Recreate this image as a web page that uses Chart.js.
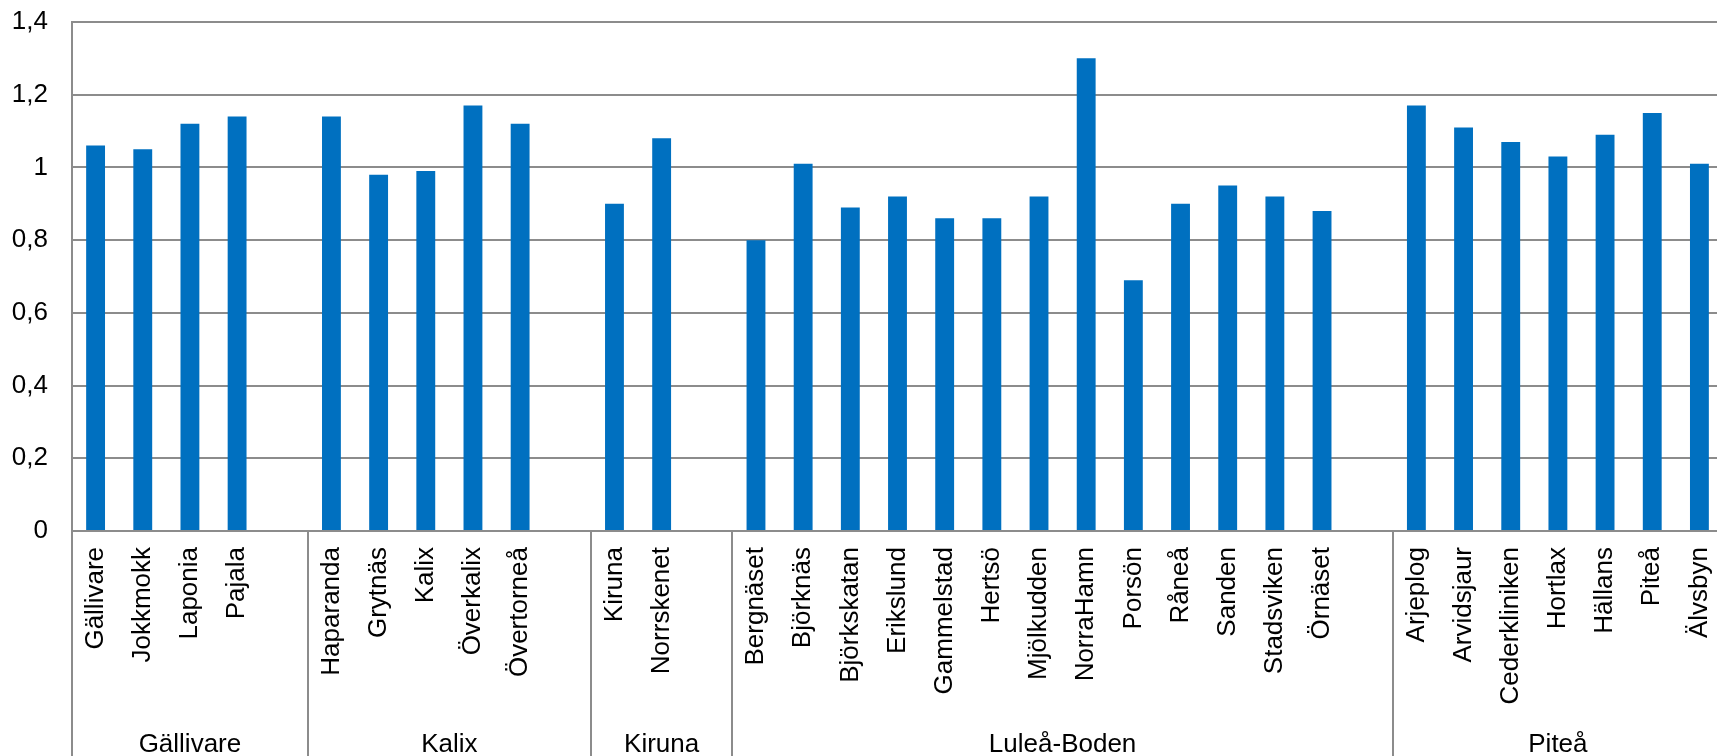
<!DOCTYPE html>
<html>
<head>
<meta charset="utf-8">
<script src="https://cdn.jsdelivr.net/npm/chart.js@4/dist/chart.umd.min.js"></script>
<style>
  html, body { margin: 0; padding: 0; background: #fff; overflow: hidden; }
  #wrap { width: 1730px; height: 756px; }
</style>
</head>
<body>
<div id="wrap"><canvas id="c" width="1730" height="756"></canvas></div>
<script>
// ---- data ----
const categories = [
  'Gällivare', 'Jokkmokk', 'Laponia', 'Pajala', '',
  'Haparanda', 'Grytnäs', 'Kalix', 'Överkalix', 'Övertorneå', '',
  'Kiruna', 'Norrskenet', '',
  'Bergnäset', 'Björknäs', 'Björkskatan', 'Erikslund', 'Gammelstad', 'Hertsö', 'Mjölkudden',
  'NorraHamn', 'Porsön', 'Råneå', 'Sanden', 'Stadsviken', 'Örnäset', '',
  'Arjeplog', 'Arvidsjaur', 'Cederkliniken', 'Hortlax', 'Hällans', 'Piteå', 'Älvsbyn'
];
const values = [
  1.06, 1.05, 1.12, 1.14, null,
  1.14, 0.98, 0.99, 1.17, 1.12, null,
  0.90, 1.08, null,
  0.80, 1.01, 0.89, 0.92, 0.86, 0.86, 0.92,
  1.30, 0.69, 0.90, 0.95, 0.92, 0.88, null,
  1.17, 1.11, 1.07, 1.03, 1.09, 1.15, 1.01
];
const groups = ['Gällivare', 'Kalix', 'Kiruna', 'Luleå-Boden', 'Piteå'];
const groupSizes = [5, 6, 3, 14, 7];
const yTicks = [0, 0.2, 0.4, 0.6, 0.8, 1, 1.2, 1.4];

// ---- style ----
const FONT = "'Liberation Sans', Arial, sans-serif";
const LINE = '#8c8c8c';
const BAR = '#0070C0';

function clearPadding(scale) {
  scale.paddingTop = 0;
  scale.paddingBottom = 0;
  scale.paddingLeft = 0;
  scale.paddingRight = 0;
}

const groupPlugin = {
  id: 'groupAxis',
  afterDraw(chart) {
    const x = chart.scales.x;
    const ctx = chart.ctx;
    const top = x.top;
    const bottom = chart.height;
    ctx.save();
    ctx.strokeStyle = LINE;
    ctx.lineWidth = 2;
    ctx.fillStyle = '#000';
    ctx.font = '26px ' + FONT;
    ctx.textAlign = 'center';
    ctx.textBaseline = 'alphabetic';
    let start = 0;
    groupSizes.forEach((size, g) => {
      const end = start + size;
      const left = start === 0 ? x.left : (x.getPixelForTick(start - 1) + x.getPixelForTick(start)) / 2;
      const right = end >= categories.length ? x.right : (x.getPixelForTick(end - 1) + x.getPixelForTick(end)) / 2;
      ctx.beginPath();
      ctx.moveTo(Math.round(left), top);
      ctx.lineTo(Math.round(left), bottom);
      ctx.stroke();
      ctx.fillText(groups[g], (left + right) / 2, 751.5);
      start = end;
    });
    ctx.restore();
  }
};

new Chart(document.getElementById('c'), {
  type: 'bar',
  data: {
    labels: categories,
    datasets: [{
      data: values,
      backgroundColor: BAR,
      borderWidth: 0,
      categoryPercentage: 1,
      barPercentage: 0.4
    }]
  },
  options: {
    responsive: false,
    animation: false,
    events: [],
    layout: { padding: { top: 22, right: 7, left: 0, bottom: 0 } },
    plugins: { legend: { display: false }, tooltip: { enabled: false } },
    scales: {
      x: {
        grid: { display: true, drawOnChartArea: false, drawTicks: false },
        border: { display: true, color: LINE, width: 2 },
        ticks: {
          autoSkip: false,
          minRotation: 90,
          maxRotation: 90,
          padding: 16,
          color: '#000',
          font: { family: FONT, size: 26 }
        },
        afterFit(scale) { scale.height = 225; clearPadding(scale); }
      },
      y: {
        min: 0,
        max: 1.4,
        afterBuildTicks(scale) { scale.ticks = yTicks.map(v => ({ value: v })); },
        grid: { color: LINE, lineWidth: 2, drawTicks: false },
        border: { display: true, color: LINE, width: 2 },
        ticks: {
          padding: 24,
          color: '#000',
          font: { family: FONT, size: 26 },
          callback: (v) => String(Number(v.toFixed(1))).replace('.', ',')
        },
        afterFit(scale) { scale.width = 72; clearPadding(scale); }
      }
    }
  },
  plugins: [groupPlugin]
});
</script>
</body>
</html>
